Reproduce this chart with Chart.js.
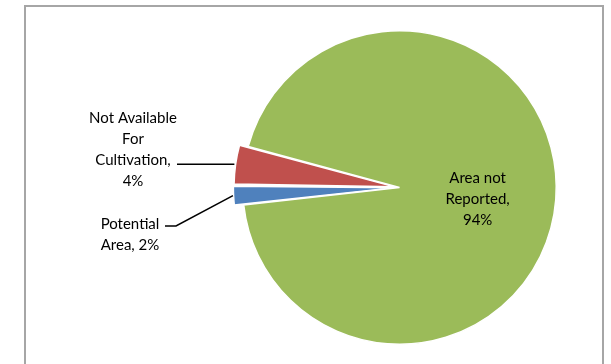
<!DOCTYPE html>
<html>
<head>
<meta charset="utf-8">
<script src="https://cdn.jsdelivr.net/npm/chart.js@4"></script>
<style>
  html, body { margin: 0; padding: 0; background: #fff; }
  #wrap { width: 611px; height: 364px; }
</style>
</head>
<body>
<div id="wrap"><canvas id="myChart" width="611" height="364"></canvas></div>
<script>
"use strict";

// data
const categories = ["Potential Area", "Not Available For Cultivation", "Area not Reported"];
const shares = [2, 4, 94];
const sliceColors = ["#4F81BD", "#C0504D", "#9BBB59"];
const labelLines = [
  ["Potential", "Area, 2%"],
  ["Not Available", "For", "Cultivation,", "4%"],
  ["Area not", "Reported,", "94%"]
];

const FONT = "15px Lato, 'Noto Sans', sans-serif";
const LINE_H = 21;

// frame round the chart
const framePlugin = {
  id: "frame",
  beforeDraw(chart) {
    const ctx = chart.ctx;
    ctx.save();
    ctx.strokeStyle = "#a6a6a6";
    ctx.lineWidth = 2;
    ctx.strokeRect(25, 6, 578, 400);
    ctx.restore();
  }
};

function drawLines(ctx, lines, cx, y0) {
  lines.forEach((t, i) => ctx.fillText(t, cx, y0 + i * LINE_H));
}

// labels with leader lines for the small slices
const labelPlugin = {
  id: "sliceLabels",
  afterDatasetsDraw(chart) {
    const ctx = chart.ctx;
    const arcs = chart.getDatasetMeta(0).data;
    ctx.save();
    ctx.font = FONT;
    ctx.fillStyle = "#000";
    ctx.textAlign = "center";
    ctx.textBaseline = "middle";
    ctx.strokeStyle = "#000";
    ctx.lineWidth = 1.5;

    // outer edge point at the middle of an (exploded) slice
    const edge = (arc) => {
      const mid = (arc.startAngle + arc.endAngle) / 2;
      const shift = (arc.options.offset || 0) / 2;
      const cx = arc.x + Math.cos(mid) * shift;
      const cy = arc.y + Math.sin(mid) * shift;
      return { x: cx + Math.cos(mid) * arc.outerRadius, y: cy + Math.sin(mid) * arc.outerRadius };
    };

    // big slice: text inside
    const g = arcs[2];
    const gm = (g.startAngle + g.endAngle) / 2;
    const gx = g.x + Math.cos(gm) * g.outerRadius * 0.5;
    const gy = g.y + Math.sin(gm) * g.outerRadius * 0.5;
    drawLines(ctx, labelLines[2], gx, gy - LINE_H + 6);

    // red slice
    const r = edge(arcs[1]);
    drawLines(ctx, labelLines[1], 133, 118);
    ctx.beginPath();
    ctx.moveTo(r.x, r.y);
    ctx.lineTo(177, r.y);
    ctx.stroke();

    // blue slice
    const b = edge(arcs[0]);
    drawLines(ctx, labelLines[0], 130, 224);
    ctx.beginPath();
    ctx.moveTo(b.x, b.y);
    ctx.lineTo(176, 226);
    ctx.lineTo(165, 226);
    ctx.stroke();

    ctx.restore();
  }
};

const config = {
  type: "pie",
  data: {
    labels: categories,
    datasets: [{
      data: shares,
      backgroundColor: sliceColors,
      borderColor: "#ffffff",
      borderWidth: 1.5,
      offset: [20, 20, 0]
    }]
  },
  options: {
    responsive: false,
    animation: false,
    rotation: 263.6,
    layout: { padding: { top: 20, bottom: 9, left: 231, right: 43 } },
    plugins: {
      legend: { display: false },
      tooltip: { enabled: false },
      title: { display: false }
    }
  },
  plugins: [framePlugin, labelPlugin]
};

const myChart = new Chart(document.getElementById("myChart"), config);
</script>
</body>
</html>
